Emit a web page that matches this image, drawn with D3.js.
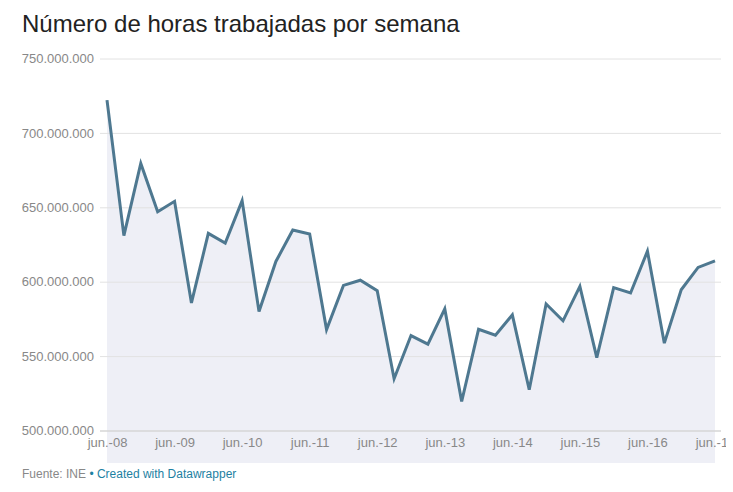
<!DOCTYPE html>
<html>
<head>
<meta charset="utf-8">
<script src="https://cdn.jsdelivr.net/npm/d3@7"></script>
<style>
  body { margin: 0; background: #fff; }
  svg text { font-family: "Liberation Sans", Arial, Helvetica, sans-serif; }
</style>
</head>
<body>
<svg id="chart" width="733" height="492"></svg>
<script>
// quarterly, jun.-08 .. jun.-17
var quarters = [
  "jun.-08", "sep.-08", "dic.-08", "mar.-09",
  "jun.-09", "sep.-09", "dic.-09", "mar.-10",
  "jun.-10", "sep.-10", "dic.-10", "mar.-11",
  "jun.-11", "sep.-11", "dic.-11", "mar.-12",
  "jun.-12", "sep.-12", "dic.-12", "mar.-13",
  "jun.-13", "sep.-13", "dic.-13", "mar.-14",
  "jun.-14", "sep.-14", "dic.-14", "mar.-15",
  "jun.-15", "sep.-15", "dic.-15", "mar.-16",
  "jun.-16", "sep.-16", "dic.-16", "mar.-17",
  "jun.-17"
];

// hours worked per week (millions)
var hours = [
  722, 631, 679.5, 647,
  654, 585.7, 632.5, 626,
  654.5, 580, 613.6, 634.7,
  632, 567.8, 597.5, 601,
  594, 534.8, 563.8, 558,
  581.7, 519.5, 568, 564,
  577.7, 527.4, 585, 573.7,
  596.8, 549, 596, 592.4,
  620.5, 558.7, 594.6, 609.6,
  614
];

var yTicks = [500e6, 550e6, 600e6, 650e6, 700e6, 750e6];
var xTickLabels = quarters.filter(function (q) { return q.indexOf("jun.") === 0; });

var title = "Número de horas trabajadas por semana";
var source = "Fuente: INE";
var credit = "Created with Datawrapper";

///////////////////////////////////////////////////////////////////////////////

var svg = d3.select("#chart");
var locale = d3.formatLocale({ decimal: ",", thousands: ".", grouping: [3], currency: ["", " €"] });
var fmt = locale.format(",");

var x = d3.scalePoint().domain(quarters).range([107, 715]);
var y = d3.scaleLinear().domain([500e6, 750e6]).range([430.5, 58.5]);

var data = quarters.map(function (q, i) { return { q: q, v: hours[i] * 1e6 }; });

svg.append("text")
  .attr("x", 22).attr("y", 32)
  .attr("font-size", 24)
  .attr("fill", "#222")
  .text(title);

// background area (goes below the axis, like the original)
var area = d3.area()
  .x(function (d) { return x(d.q); })
  .y0(463)
  .y1(function (d) { return y(d.v); });

svg.append("path")
  .datum(data)
  .attr("d", area)
  .attr("fill", "#eeeff6");

// grid + y labels
var yAxis = d3.axisLeft(y)
  .tickValues(yTicks)
  .tickSize(-621)
  .tickPadding(6)
  .tickFormat(function (d) { return fmt(d); });

var gy = svg.append("g")
  .attr("transform", "translate(100,0)")
  .call(yAxis);
gy.select(".domain").remove();
gy.selectAll(".tick line").attr("stroke", "#e2e2e2").attr("stroke-width", 1);
gy.selectAll(".tick text")
  .attr("font-size", 13)
  .attr("fill", "#888")
  .attr("dy", "0.32em");
gy.selectAll(".tick")
  .filter(function (d) { return d === 500e6; })
  .select("line").attr("stroke", "#d6d6d6").attr("stroke-width", 1.5);

// x labels
svg.append("clipPath").attr("id", "xclip")
  .append("rect").attr("x", 0).attr("y", 430).attr("width", 726).attr("height", 40);

var xAxis = d3.axisBottom(x)
  .tickValues(xTickLabels)
  .tickSize(0)
  .tickPadding(7);

var gx = svg.append("g")
  .attr("transform", "translate(0,431)")
  .attr("clip-path", "url(#xclip)")
  .call(xAxis);
gx.select(".domain").remove();
gx.selectAll(".tick text")
  .attr("font-size", 13)
  .attr("fill", "#888");
// clip path is in svg coords, the group is translated
svg.select("#xclip rect").attr("y", -10);

var line = d3.line()
  .x(function (d) { return x(d.q); })
  .y(function (d) { return y(d.v); });

svg.append("path")
  .datum(data)
  .attr("d", line)
  .attr("fill", "none")
  .attr("stroke", "#4e7890")
  .attr("stroke-width", 3)
  .attr("stroke-linejoin", "miter");

var foot = svg.append("text")
  .attr("x", 22).attr("y", 478)
  .attr("font-size", 12);
foot.append("tspan").attr("fill", "#888").text(source + " ");
foot.append("tspan").attr("fill", "#1d81a2").text("• " + credit);
</script>
</body>
</html>
